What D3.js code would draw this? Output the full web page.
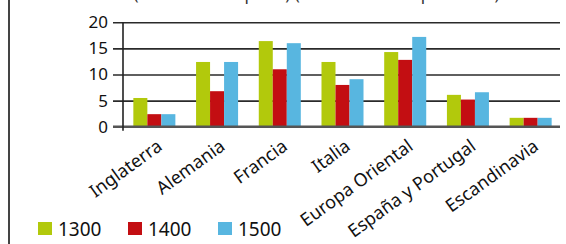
<!DOCTYPE html>
<html>
<head>
<meta charset="utf-8">
<script src="https://cdn.jsdelivr.net/npm/d3@7"></script>
<style>
  body { margin: 0; background: #fff; }
  text { font-family: "Noto Sans", sans-serif; fill: #111; }
</style>
</head>
<body>
<div id="chart"></div>
<script>
// Datos (millones de habitantes)
var regiones = ["Inglaterra", "Alemania", "Francia", "Italia", "Europa Oriental", "España y Portugal", "Escandinavia"];
var series = ["1300", "1400", "1500"];
var valores1300 = [5.5, 12.4, 16.4, 12.4, 14.3, 6.1, 1.7];
var valores1400 = [2.4, 6.8, 11.0, 8.0, 12.8, 5.2, 1.7];
var valores1500 = [2.4, 12.4, 16.0, 9.1, 17.2, 6.6, 1.7];
var yTicks = [0, 5, 10, 15, 20];
var colores = ["#b2c90c", "#c30e12", "#58b6e0"];

var width = 566, height = 244;

var svg = d3.select("#chart")
    .append("svg")
    .attr("width", width)
    .attr("height", height);

svg.append("rect").attr("width", width).attr("height", height).attr("fill", "#fff");

// titulo cortado arriba
svg.append("text")
    .attr("x", 42)
    .attr("y", -0.5)
    .style("font-size", "17px")
    .style("fill", "#333")
    .text("Habitantes (en millones aprox.) (en millones de personas)");

// borde izquierdo
svg.append("line")
    .attr("x1", 9).attr("x2", 9)
    .attr("y1", 0).attr("y2", height)
    .style("stroke", "#444")
    .style("stroke-width", 2);

var y = d3.scaleLinear().domain([0, 20]).range([126.7, 22.3]);
var x0 = d3.scaleBand().domain(regiones).range([123, 562]).paddingInner(0.33).paddingOuter(0.165);
var x1 = d3.scaleBand().domain(series).range([0, x0.bandwidth()]);

// lineas de la cuadricula + etiquetas
var ejeY = svg.append("g")
    .attr("transform", "translate(113,0)")
    .call(d3.axisLeft(y).tickValues(yTicks).tickSize(-447).tickPadding(5));
ejeY.select(".domain").remove();
ejeY.selectAll("line")
    .style("stroke", "#2a2a2a")
    .style("stroke-width", 1.6);
ejeY.selectAll("text")
    .style("font-size", "17px")
    .style("fill", "#111")
    .style("font-family", "'Noto Sans', sans-serif");

// barras
var datos = regiones.map(function(r, i) {
    return { region: r, vals: [valores1300[i], valores1400[i], valores1500[i]] };
});

var grupos = svg.selectAll(".grupo")
    .data(datos)
    .enter().append("g")
    .attr("transform", function(d) { return "translate(" + x0(d.region) + ",0)"; });

grupos.selectAll("rect")
    .data(function(d) { return d.vals.map(function(v, j) { return { serie: series[j], v: v, c: colores[j] }; }); })
    .enter().append("rect")
    .attr("x", function(d) { return x1(d.serie); })
    .attr("y", function(d) { return y(d.v); })
    .attr("width", x1.bandwidth())
    .attr("height", function(d) { return y(0) - y(d.v); })
    .attr("fill", function(d) { return d.c; });

// linea base
svg.append("line")
    .attr("x1", 113).attr("x2", 560)
    .attr("y1", y(0)).attr("y2", y(0))
    .style("stroke", "#555")
    .style("stroke-width", 2.5);

// eje vertical
svg.append("line")
    .attr("x1", 123).attr("x2", 123)
    .attr("y1", y(20)).attr("y2", y(0) + 4)
    .style("stroke", "#222")
    .style("stroke-width", 1.6);

// etiquetas categorias
var ejeX = svg.append("g")
    .attr("transform", "translate(0," + y(0) + ")")
    .call(d3.axisBottom(x0).tickSize(0));
ejeX.select(".domain").remove();
ejeX.selectAll("text")
    .style("font-size", "18px")
    .style("fill", "#111")
    .style("font-family", "'Noto Sans', sans-serif")
    .attr("text-anchor", "end")
    .attr("dy", 0)
    .attr("y", 0)
    .attr("transform", "translate(9,22) rotate(-36)");

// leyenda
var leyenda = svg.append("g").attr("transform", "translate(38,222)");
var item = leyenda.selectAll("g")
    .data(series)
    .enter().append("g")
    .attr("transform", function(d, i) { return "translate(" + [0, 90, 180][i] + ",0)"; });
item.append("rect")
    .attr("width", 14).attr("height", 13)
    .attr("fill", function(d, i) { return colores[i]; });
item.append("text")
    .attr("x", 20)
    .attr("y", 13.5)
    .style("font-size", "19px")
    .text(function(d) { return d; });
</script>
</body>
</html>
